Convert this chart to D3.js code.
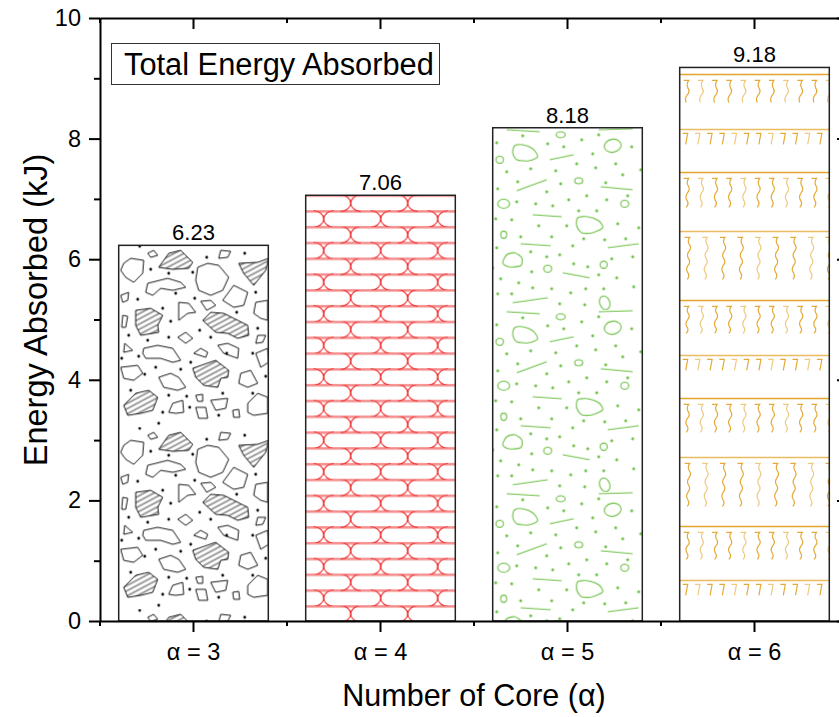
<!DOCTYPE html>
<html><head><meta charset="utf-8">
<script src="https://cdn.jsdelivr.net/npm/d3@7"></script>
<style>body{margin:0;background:#fff} svg{display:block}</style>
</head><body><svg id="c" width="839" height="717"></svg>
<script>
// ---------- data ----------
const categories = ["α = 3", "α = 4", "α = 5", "α = 6"];
const energy = [6.23, 7.06, 8.18, 9.18];
const valueLabels = ["6.23", "7.06", "8.18", "9.18"];
const yTicks = [0, 2, 4, 6, 8, 10];
const yMinorTicks = [1, 3, 5, 7, 9];
const legendTitle = "Total Energy Absorbed";
const xTitle = "Number of Core (α)";
const yTitle = "Energy Absorbed (kJ)";

// ---------- layout ----------
const M = {left: 100, top: 18, right: 848, bottom: 621};
const FONT = "'Liberation Sans', Arial, sans-serif";
const svg = d3.select("#c");

const x = d3.scaleBand().domain(categories).range([M.left, M.right])
  .paddingInner(0.2).paddingOuter(0.1);
const y = d3.scaleLinear().domain([0, 10]).range([M.bottom, M.top]);

const defs = svg.append("defs");

// hatch for black pattern
const hatch = defs.append("pattern").attr("id", "hatch").attr("patternUnits", "userSpaceOnUse")
  .attr("width", 4.6).attr("height", 4.6).attr("patternTransform", "rotate(62)");
hatch.append("line").attr("x1", 1).attr("y1", -1).attr("x2", 1).attr("y2", 6)
  .attr("stroke", "#000").attr("stroke-width", 0.75);

// ---------- texture definitions (decoration, tile-relative) ----------
const blackPolys = [
 {p:[[29,8],[35,5],[39,10],[32,12]]},
 {p:[[40,22],[50,8],[62,5],[74,17],[70,23],[54,24]], h:1},
 {p:[[5,18],[12,13],[25,15],[24,28],[15,37],[7,32],[2,25]]},
 {p:[[79,22],[89,18],[100,20],[110,32],[104,45],[92,50],[80,45],[77,35]]},
 {p:[[102,5],[112,6],[109,12],[100,13]]},
 {p:[[120,18],[139,17],[150,13],[147,25],[135,40],[125,28]], h:1},
 {p:[[29,38],[49,33],[62,37],[67,42],[54,45],[42,43],[34,50],[27,47]]},
 {p:[[2,50],[10,47],[9,55],[4,57]]},
 {p:[[60,57],[70,58],[77,67],[69,68],[60,75]]},
 {p:[[82,56],[92,55],[97,60],[88,65]]},
 {p:[[104,55],[115,40],[129,47],[125,60],[115,62]]},
 {p:[[137,57],[149,55],[149,75],[142,73],[135,68]]},
 {p:[[17,65],[32,63],[44,70],[39,80],[40,87],[22,90],[17,80]], h:1},
 {p:[[4,70],[9,71],[7,82],[3,82]]},
 {p:[[84,75],[92,67],[105,68],[129,80],[130,90],[119,93],[109,88],[97,87]], h:1},
 {p:[[59,92],[67,87],[74,93],[67,98]]},
 {p:[[139,90],[147,90],[144,97],[137,98]]},
 {p:[[25,103],[39,100],[54,103],[62,115],[54,117],[42,113],[27,113],[24,108]]},
 {p:[[6,98],[14,105],[5,107]]},
 {p:[[75,108],[82,103],[89,107],[87,112]]},
 {p:[[99,100],[109,98],[120,103],[119,113],[105,108]]},
 {p:[[137,108],[149,103],[150,117],[142,122]]},
 {p:[[2,122],[19,120],[24,128],[15,135],[5,133]]},
 {p:[[74,123],[97,115],[110,125],[109,132],[102,133],[99,142],[85,140],[77,132]], h:1},
 {p:[[40,132],[52,128],[60,132],[67,142],[59,145],[45,142]]},
 {p:[[122,128],[132,125],[139,138],[129,142],[120,138]]},
 {p:[[5,160],[17,148],[30,145],[39,152],[34,165],[22,168],[9,170]], h:1},
 {p:[[54,158],[64,155],[65,167],[57,168],[50,167]]},
 {p:[[77,150],[84,149],[84,156],[79,156]]},
 {p:[[92,155],[109,153],[107,163],[97,165]]},
 {p:[[77,162],[87,162],[89,173],[80,173]]},
 {p:[[129,158],[139,148],[149,152],[149,168],[135,170],[129,167]]},
 {p:[[114,165],[120,164],[121,172],[115,172]]}
];
const blackDots = [[21,1],[88,12],[126,8],[32,24],[50,28],[74,27],[137,47],[19,54],[57,48],[44,63],
 [76,53],[118,67],[52,76],[81,85],[50,92],[139,83],[29,95],[10,90],[92,92],[20,111],[108,108],
 [134,108],[37,122],[62,124],[72,117],[147,131],[26,129],[12,145],[50,150],[68,151],[104,148],
 [134,148],[44,167],[71,162],[100,170],[40,178],[3,113]];

const greenDots = [[4,15],[30,8],[55,16],[71,19],[89,12],[106,7],[139,19],[100,26],[84,36],[103,40],
 [123,36],[14,44],[38,41],[63,43],[148,42],[130,47],[25,54],[68,56],[113,55],[5,61],[54,64],[94,68],
 [135,68],[76,72],[114,72],[24,74],[43,76],[60,78],[86,83],[104,83],[3,91],[19,92],[46,98],[74,98],
 [125,96],[146,100],[28,109],[59,109],[91,111],[112,112],[133,111],[4,120],[80,118],[38,124],[67,127],
 [54,129],[140,129],[119,131],[0,140],[81,136],[95,139],[39,144],[106,147],[124,150],[8,151],[26,155],
 [40,160],[59,161],[93,161],[111,161],[141,159],[5,166],[19,166],[78,165],[67,176],[92,177]];
const greenEllipses = [[120,18,8.5,6.5,-10],[7,32,3.8,3.5,0],[68,7,4.5,3,0],[86,53,4,3,0],[11,76,6,4.5,0],
 [132,76,4,3.5,0],[11,107,3,3.6,0],[55,141,4,3.5,0],[111,137,3.6,3.6,0],[112,175,5,7,-20]];
const greenBlobs = [
 [[22,18],[30,17],[40,21],[45,29],[36,33],[24,32],[20,25]],
 [[85,90],[95,89],[106,93],[110,100],[100,105],[89,105],[84,98]],
 [[10,135],[14,127],[22,125],[29,130],[28,138],[16,139]]
];
const greenLines = [[57,32,81,27],[24,63,54,52],[108,59,140,62],[40,87,69,89],[28,116,58,118],
 [115,120,146,116],[70,145,97,150],[20,175,55,170],[14,2,47,4],[106,2,140,1]];

// orange rows: [offset from bar top, type, glyph length]
const orangeRows = [[7,"w",22],[62,"s",0],[105,"w",29],[164,"t",42],[233,"w",27],
 [288,"s",0],[331,"w",28],[390,"t",43],[459,"w",27],[513,"s",0]];

const RED = "#EE3030", GREEN = "#6CC043", ORANGE = "#E3A52C";

// ---------- build per-bar fills ----------
const bars = categories.map((c, i) => ({c, v: energy[i], label: valueLabels[i], i,
  x0: x(c), w: x.bandwidth(), top: y(energy[i]), h: y(0) - y(energy[i])}));

// Pattern 0 (black)
(function(){
  const b = bars[0];
  const p = defs.append("pattern").attr("id", "pat0").attr("patternUnits", "userSpaceOnUse")
    .attr("width", 152).attr("height", 182)
    .attr("patternTransform", `translate(${b.x0},${b.top})`);
  p.selectAll("polygon").data(blackPolys).join("polygon")
    .attr("points", d => d.p.map(q => q.join(",")).join(" "))
    .attr("fill", d => d.h ? "url(#hatch)" : "none")
    .attr("stroke", "#000").attr("stroke-width", 0.9).attr("stroke-linejoin", "round");
  p.selectAll("circle").data(blackDots).join("circle")
    .attr("cx", d => d[0]).attr("cy", d => d[1]).attr("r", 1.4).attr("fill", "#000");
})();

// Pattern 1 (red pills)
(function(){
  const b = bars[1];
  const rh = 15.8, pw = 57;
  const p = defs.append("pattern").attr("id", "pat1").attr("patternUnits", "userSpaceOnUse")
    .attr("width", pw).attr("height", rh * 2)
    .attr("patternTransform", `translate(${b.x0},${b.top})`);
  [0, rh, 2 * rh].forEach(t => {
    p.append("line").attr("x1", 0).attr("x2", pw).attr("y1", t + 1.3).attr("y2", t + 1.3)
      .attr("stroke", "#F6A3A3").attr("stroke-width", 1.1);
    p.append("line").attr("x1", 0).attr("x2", pw).attr("y1", t).attr("y2", t)
      .attr("stroke", RED).attr("stroke-width", 1.1);
  });
  [[0, 45], [rh, 18]].forEach(([t, j]) => {
    const m = t + rh / 2;
    [-1, 1].forEach(s => {
      p.append("path")
        .attr("d", `M${j + s*10},${t - 0.5} C${j + s*4.5},${t} ${j},${t + rh*0.22} ${j},${m} C${j},${t + rh*0.78} ${j + s*4.5},${t + rh} ${j + s*10},${t + rh + 0.5}`)
        .attr("fill", "none").attr("stroke", RED).attr("stroke-width", 1.1);
    });
  });
})();

// Pattern 2 (green)
(function(){
  const b = bars[2];
  const p = defs.append("pattern").attr("id", "pat2").attr("patternUnits", "userSpaceOnUse")
    .attr("width", 152).attr("height", 182)
    .attr("patternTransform", `translate(${b.x0},${b.top})`);
  p.selectAll("circle").data(greenDots).join("circle")
    .attr("cx", d => d[0]).attr("cy", d => d[1]).attr("r", 1.5).attr("fill", GREEN);
  p.selectAll("ellipse").data(greenEllipses).join("ellipse")
    .attr("cx", 0).attr("cy", 0).attr("rx", d => d[2]).attr("ry", d => d[3])
    .attr("transform", d => `translate(${d[0]},${d[1]}) rotate(${d[4]})`)
    .attr("fill", "none").attr("stroke", GREEN).attr("stroke-width", 1.1);
  const blob = d3.line().curve(d3.curveCardinalClosed.tension(0.2));
  p.selectAll("path.blob").data(greenBlobs).join("path").attr("class", "blob")
    .attr("d", blob).attr("fill", "none").attr("stroke", GREEN).attr("stroke-width", 1.1);
  p.selectAll("line").data(greenLines).join("line")
    .attr("x1", d => d[0]).attr("y1", d => d[1]).attr("x2", d => d[2]).attr("y2", d => d[3])
    .attr("stroke", GREEN).attr("stroke-width", 1.1);
})();

// ---------- bars ----------
const gBars = svg.append("g");
bars.forEach(b => {
  defs.append("clipPath").attr("id", "clip" + b.i).append("rect")
    .attr("x", b.x0).attr("y", b.top).attr("width", b.w).attr("height", b.h);
});
gBars.selectAll("rect.fill").data(bars).join("rect").attr("class", "fill")
  .attr("x", d => d.x0).attr("y", d => d.top).attr("width", d => d.w).attr("height", d => d.h)
  .attr("fill", d => d.i < 3 ? `url(#pat${d.i})` : "#fff");

// orange texture (bar 4) drawn in a clipped group
(function(){
  const b = bars[3];
  const g = gBars.append("g").attr("clip-path", "url(#clip3)");
  orangeRows.forEach(([off, type, len], ri) => {
    const ly = b.top + off;
    g.append("line").attr("x1", b.x0).attr("x2", b.x0 + b.w).attr("y1", ly).attr("y2", ly)
      .attr("stroke", ORANGE).attr("stroke-width", 1.4).attr("stroke-opacity", ri % 2 ? 0.75 : 1);
    const sp = type === "s" ? 12.2 : type === "t" ? 17.6 : 14.2;
    const start = type === "s" ? 3 : type === "t" ? 5 : 4;
    const y0 = ly + (type === "s" ? 4 : 6);
    for (let k = 0, gx = b.x0 + start; gx < b.x0 + b.w; k++, gx += sp) {
      let d;
      if (type === "s") {
        d = `M${gx},${y0}h5l-2,11`;
      } else {
        d = `M${gx},${y0}h5`;
        const n = Math.max(2, Math.round(len / 7));
        const seg = len / n;
        let cx = gx + 5;
        for (let q = 0; q < n; q++) {
          const yy = y0 + seg * (q + 1);
          const nx = gx + 5 - 2.5 * (q + 1) / n;
          d += ` Q${cx + (q % 2 ? 2.6 : -2.6)},${yy - seg / 2} ${nx},${yy}`;
          cx = nx;
        }
      }
      g.append("path").attr("d", d).attr("fill", "none").attr("stroke", ORANGE)
        .attr("stroke-width", 1.2).attr("stroke-opacity", k % 3 === 1 ? 0.6 : 0.95);
    }
  });
})();

gBars.selectAll("rect.outline").data(bars).join("rect").attr("class", "outline")
  .attr("x", d => d.x0).attr("y", d => d.top).attr("width", d => d.w).attr("height", d => d.h)
  .attr("fill", "none").attr("stroke", "#222").attr("stroke-width", 1.5);

// value labels
svg.append("g").selectAll("text").data(bars).join("text")
  .attr("x", d => d.x0 + d.w / 2).attr("y", d => d.top - 5)
  .attr("text-anchor", "middle").attr("font-family", FONT).attr("font-size", 22)
  .attr("fill", "#000").text(d => d.label);

// ---------- axes ----------
function styleAxis(g) {
  g.selectAll("path.domain").attr("stroke", "#000").attr("stroke-width", 2);
  g.selectAll(".tick line").attr("stroke", "#000").attr("stroke-width", 2);
  g.selectAll("text").attr("font-family", FONT).attr("fill", "#000");
}
// left
svg.append("g").attr("transform", `translate(${M.left},0)`)
  .call(d3.axisLeft(y).tickValues(yTicks).tickSize(11).tickSizeOuter(0).tickPadding(8).tickFormat(d3.format("d")))
  .call(styleAxis).call(g => g.selectAll("text").attr("font-size", 23.5));
svg.append("g").attr("transform", `translate(${M.left},0)`)
  .call(d3.axisLeft(y).tickValues(yMinorTicks).tickSize(6).tickFormat(""))
  .call(styleAxis).call(g => g.select(".domain").remove());
// right (mirror, inward)
svg.append("g").attr("transform", `translate(${M.right},0)`)
  .call(d3.axisRight(y).tickValues(yTicks).tickSize(-11).tickSizeOuter(0).tickFormat(""))
  .call(styleAxis);
svg.append("g").attr("transform", `translate(${M.right},0)`)
  .call(d3.axisRight(y).tickValues(yMinorTicks).tickSize(-6).tickFormat(""))
  .call(styleAxis).call(g => g.select(".domain").remove());
// bottom
svg.append("g").attr("transform", `translate(0,${M.bottom})`)
  .call(d3.axisBottom(x).tickSize(11).tickSizeOuter(0).tickPadding(11))
  .call(styleAxis).call(g => g.selectAll("text").attr("font-size", 23.5));
// top (inward)
svg.append("g").attr("transform", `translate(0,${M.top})`)
  .call(d3.axisTop(x).tickSize(-11).tickSizeOuter(0).tickFormat(""))
  .call(styleAxis);
// minor x ticks at band boundaries
const bounds = d3.range(categories.length + 1).map(i => x.range()[0] + i * x.step());
svg.append("g").selectAll("line").data(bounds).join("line")
  .attr("x1", d => d).attr("x2", d => d).attr("y1", M.bottom).attr("y2", M.bottom + 5)
  .attr("stroke", "#000").attr("stroke-width", 2);
svg.append("g").selectAll("line").data(bounds).join("line")
  .attr("x1", d => d).attr("x2", d => d).attr("y1", M.top).attr("y2", M.top + 5)
  .attr("stroke", "#000").attr("stroke-width", 2);

// titles
svg.append("text").attr("x", (M.left + M.right) / 2).attr("y", 706)
  .attr("text-anchor", "middle").attr("font-family", FONT).attr("font-size", 30.5)
  .attr("fill", "#000").text(xTitle);
svg.append("text").attr("transform", `translate(47,310) rotate(-90)`)
  .attr("text-anchor", "middle").attr("font-family", FONT).attr("font-size", 32.5)
  .attr("fill", "#000").text(yTitle);

// legend box
svg.append("rect").attr("x", 111.5).attr("y", 43.5).attr("width", 328).attr("height", 41)
  .attr("fill", "#fff").attr("stroke", "#333").attr("stroke-width", 1);
svg.append("text").attr("x", 124).attr("y", 75).attr("font-family", FONT).attr("font-size", 30.8)
  .attr("fill", "#000").text(legendTitle);
</script>
</body></html>
